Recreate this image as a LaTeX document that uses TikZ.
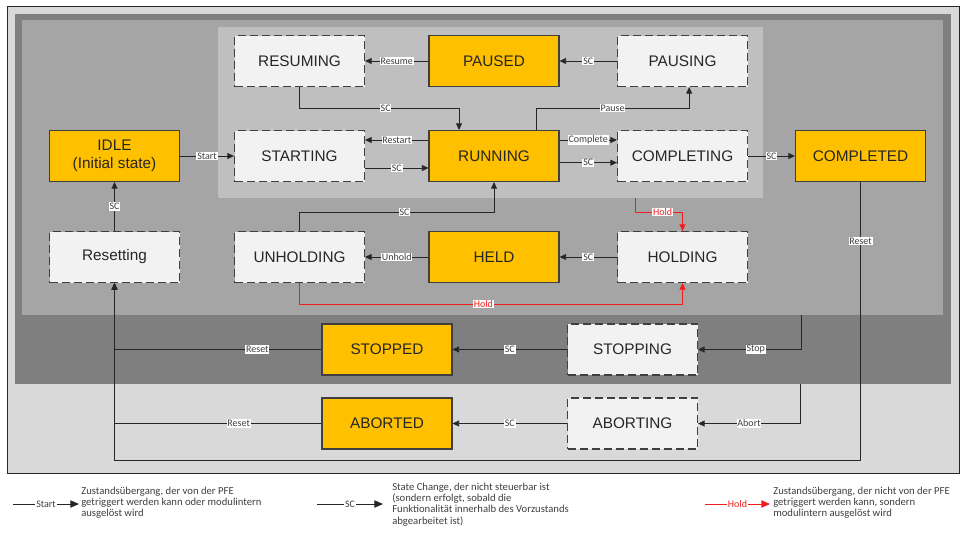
\documentclass[tikz,border=0pt]{standalone}
\usepackage{fontspec}
\setmainfont{Liberation Sans}
\newfontfamily\lblfont{Carlito}
\usetikzlibrary{arrows.meta}
\definecolor{figstable}{HTML}{FFC000}
\definecolor{figtrans}{HTML}{F2F2F2}
\definecolor{figedge}{HTML}{3F3F3F}
\definecolor{figline}{HTML}{262626}
\definecolor{figouter}{HTML}{D9D9D9}
\definecolor{figdark}{HTML}{7F7F7F}
\definecolor{figmid}{HTML}{A5A5A5}
\definecolor{figinner}{HTML}{BFBFBF}
\definecolor{figred}{HTML}{F21D1D}

\begin{document}
\begin{tikzpicture}[
  x=0.75pt,y=-0.75pt,
  box/.style={draw=figedge,line width=0.8pt,minimum width=97.5pt,minimum height=38.25pt,
              align=center,inner sep=1pt,text=figline,
              font=\fontsize{11.5}{13.5}\selectfont},
  stable/.style={box,fill=figstable},
  acting/.style={box,fill=figtrans,dash pattern=on 6pt off 3pt},
  lbl/.style={fill=white,inner sep=0.6pt,text=figedge,
              font=\lblfont\fontsize{7.5}{8}\selectfont},
  hlbl/.style={lbl,text=figred},
  conn/.style={->,draw=figline,line width=0.7pt},
  holdconn/.style={conn,draw=figred},
  keyconn/.style={-{Triangle[length=6.5pt,width=5.5pt]}},
  note/.style={anchor=west,align=left,inner sep=0pt,text=figedge,
               font=\lblfont\fontsize{8}{8.4}\selectfont},
  >={Triangle[length=5pt,width=4.5pt]}
]
\useasboundingbox (0,0) rectangle (966,533);
\fill[figouter,draw=figline,line width=0.6pt] (7,6) rectangle (959,473);
\fill[figdark] (15,14) rectangle (951,384);
\fill[figmid] (22,20) rectangle (943,315);
\fill[figinner] (218,27) rectangle (763,198);

\node[acting] (resuming) at (299.5,61) {RESUMING};
\node[stable] (paused) at (494,61) {PAUSED};
\node[acting] (pausing) at (682.5,61) {PAUSING};
\node[stable] (idle) at (114.5,156) {IDLE\\(Initial state)};
\node[acting] (starting) at (299.5,156) {STARTING};
\node[stable] (running) at (494,156) {RUNNING};
\node[acting] (completing) at (682.5,156) {COMPLETING};
\node[stable] (completed) at (860.5,156) {COMPLETED};
\node[acting] (resetting) at (114.5,257) {Resetting};
\node[acting] (unholding) at (299.5,257) {UNHOLDING};
\node[stable] (held) at (494,257) {HELD};
\node[acting] (holding) at (682.5,257) {HOLDING};
\node[stable] (stopped) at (387,349.5) {STOPPED};
\node[acting] (stopping) at (632.5,349.5) {STOPPING};
\node[stable] (aborted) at (387,423.5) {ABORTED};
\node[acting] (aborting) at (632.5,423.5) {ABORTING};

\coordinate (holdsrc) at (635,198);
\coordinate (stopsrc) at (801,315);
\coordinate (abortsrc) at (800,384);
\coordinate (resetbus) at (114.5,460);

\draw[conn] (paused) -- node[lbl]{Resume} (resuming);
\draw[conn] (pausing) -- node[lbl]{SC} (paused);
\draw[conn] (resuming.south) -- ++(0,21) -| node[lbl,pos=0.27]{SC} ([xshift=-26.25pt]running.north);
\draw[conn] (idle) -- node[lbl]{Start} (starting);
\draw[conn] ([yshift=12pt]running.west) -- node[lbl]{Restart} ([yshift=12pt]starting.east);
\draw[conn] ([yshift=-9pt]starting.east) -- node[lbl]{SC} ([yshift=-9pt]running.west);
\draw[conn] ([xshift=31.5pt]running.north) -- ++(0,-22) -| node[lbl,pos=0.25]{Pause} ([xshift=5pt]pausing.south);
\draw[conn] ([yshift=12pt]running.east) -- node[lbl]{Complete} ([yshift=12pt]completing.west);
\draw[conn] ([yshift=-5pt]running.east) -- node[lbl]{SC} ([yshift=-5pt]completing.west);
\draw[conn] (completing) -- node[lbl]{SC} (completed);
\draw[holdconn] (holdsrc) -- ++(0,14) -| node[hlbl,pos=0.29]{Hold} (holding.north);
\draw[conn] (holding) -- node[lbl]{SC} (held);
\draw[conn] (held) -- node[lbl]{Unhold} (unholding);
\draw[conn] (unholding.north) -- ++(0,-19) -| node[lbl,pos=0.27]{SC} (running.south);
\draw[holdconn] (unholding.south) -- ++(0,21) -| node[hlbl,pos=0.24]{Hold} (holding.south);
\draw[conn] (resetting) -- node[lbl]{SC} (idle);
\draw[conn] (stopsrc) |- node[lbl,pos=0.72]{Stop} (stopping.east);
\draw[conn] (stopping) -- node[lbl]{SC} (stopped);
\draw[conn] (abortsrc) |- node[lbl,pos=0.75]{Abort} (aborting.east);
\draw[conn] (aborting) -- node[lbl]{SC} (aborted);
\draw[conn] (stopped.west) -| node[lbl,pos=0.155]{Reset} (resetting.south);
\draw[conn] (aborted.west) -| node[lbl,pos=0.2]{Reset} (resetting.south);
\draw[conn] (completed.south) |- node[lbl,pos=0.106]{Reset} (resetbus) -- (resetting.south);

\coordinate (lgstartA) at (13,504);
\coordinate (lgstartB) at (79,504);
\coordinate (lgscA) at (317,504);
\coordinate (lgscB) at (383,504);
\coordinate (lgholdA) at (705,504);
\coordinate (lgholdB) at (770,504);
\draw[conn,keyconn] (lgstartA) -- node[lbl]{Start} (lgstartB);
\draw[conn,keyconn] (lgscA) -- node[lbl]{SC} (lgscB);
\draw[holdconn,keyconn] (lgholdA) -- node[hlbl]{Hold} (lgholdB);
\node[note] (lgstarttxt) at (81,503) {Zustandsübergang, der von der PFE\\getriggert werden kann oder modulintern\\ausgelöst wird};
\node[note] (lgsctxt) at (392,504.5) {State Change, der nicht steuerbar ist\\(sondern erfolgt, sobald die\\Funktionalität innerhalb des Vorzustands\\abgearbeitet ist)};
\node[note] (lgholdtxt) at (773,503) {Zustandsübergang, der nicht von der PFE\\getriggert werden kann, sondern\\modulintern ausgelöst wird};
\end{tikzpicture}
\end{document}
